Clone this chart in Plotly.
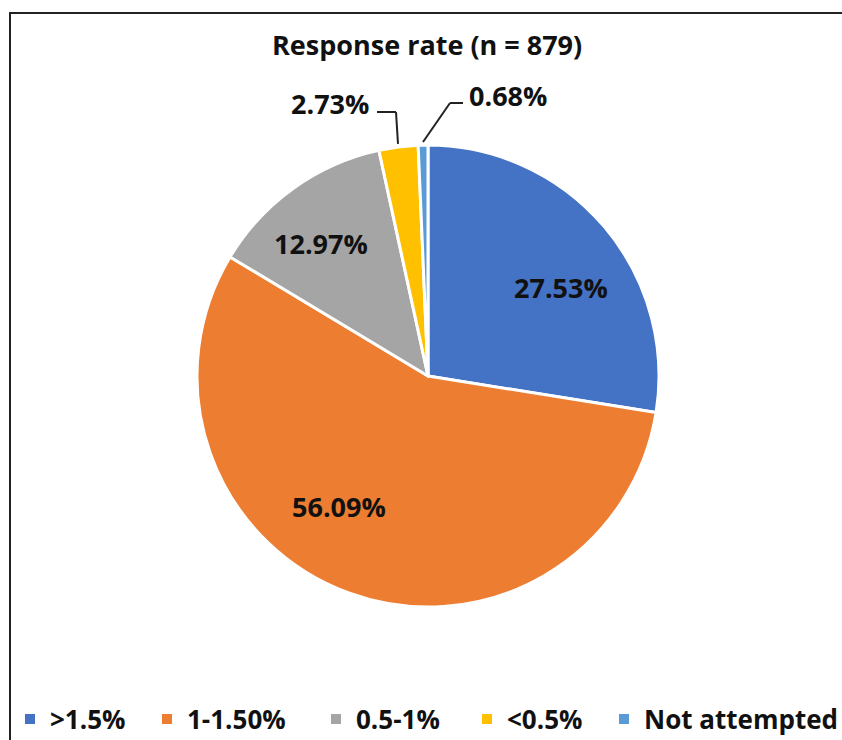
import math
import plotly.graph_objects as go

categories = [">1.5%", "1-1.50%", "0.5-1%", "<0.5%", "Not attempted"]
values = [27.53, 56.09, 12.97, 2.73, 0.68]
label_texts = ["27.53%", "56.09%", "12.97%", "2.73%", "0.68%"]
colors = ["#4472C4", "#ED7D31", "#A5A5A5", "#FFC000", "#5B9BD5"]
title_text = "Response rate (n = 879)"

W, H = 842, 740
CX, CY, R = 428, 376, 231
FONT = "Open Sans"


def px(x):
    return x / W


def py(y):
    return 1 - y / H


fig = go.Figure()
fig.add_trace(go.Pie(
    labels=categories, values=values, sort=False, direction="clockwise", rotation=0,
    marker=dict(colors=colors, line=dict(color="white", width=3)),
    textinfo="none", hoverinfo="label+percent", showlegend=False,
    domain=dict(x=[px(CX - R), px(CX + R)], y=[py(CY + R), py(CY - R)]),
))

# angles of slices (degrees clockwise from 12 o'clock)
total = sum(values)
cum = 0
mids = []
for v in values:
    mids.append((cum + v / 2) / total * 360)
    cum += v


def polar(theta, r):
    t = math.radians(theta)
    return CX + r * math.sin(t), CY - r * math.cos(t)


annotations = []
shapes = []
# inside labels: (angle offset, radius fraction)
inside_style = {0: (6.8, 0.69), 1: (14.1, 0.684), 2: (-3.2, 0.736)}
for i, (dang, rf) in inside_style.items():
    x, y = polar(mids[i] + dang, rf * R)
    annotations.append(dict(x=px(x), y=py(y), xref="paper", yref="paper", text=label_texts[i],
                            showarrow=False, xanchor="center", yanchor="middle",
                            font=dict(family=FONT, size=27, color="#111111", weight=700)))

# outside labels with leader lines
line_style = dict(color="#222222", width=2)
# slice 3 (<0.5%)
ex, ey = polar(mids[3], R + 3)
shapes.append(dict(type="line", xref="paper", yref="paper", x0=px(ex), y0=py(ey), x1=px(ex - 2), y1=py(112), line=line_style))
shapes.append(dict(type="line", xref="paper", yref="paper", x0=px(ex - 2), y0=py(112), x1=px(377), y1=py(112), line=line_style))
annotations.append(dict(x=px(371), y=py(103), xref="paper", yref="paper", text=label_texts[3],
                        showarrow=False, xanchor="right", yanchor="middle",
                        font=dict(family=FONT, size=27, color="#111111", weight=700)))
# slice 4 (Not attempted)
ex, ey = polar(mids[4], R + 3)
shapes.append(dict(type="line", xref="paper", yref="paper", x0=px(ex), y0=py(ey), x1=px(450), y1=py(103), line=line_style))
shapes.append(dict(type="line", xref="paper", yref="paper", x0=px(450), y0=py(103), x1=px(463), y1=py(103), line=line_style))
annotations.append(dict(x=px(467), y=py(95), xref="paper", yref="paper", text=label_texts[4],
                        showarrow=False, xanchor="left", yanchor="middle",
                        font=dict(family=FONT, size=27, color="#111111", weight=700)))

# title
annotations.append(dict(x=px(427), y=py(44), xref="paper", yref="paper", text=title_text,
                        showarrow=False, xanchor="center", yanchor="middle",
                        font=dict(family=FONT, size=27, color="#111111", weight=700)))

# frame
shapes.append(dict(type="rect", xref="paper", yref="paper", x0=px(10), y0=-0.05, x1=1.05, y1=py(13),
                   line=dict(color="#222222", width=2), layer="above"))

# legend via one legend per entry
legend_centers = [30, 167, 336, 487, 624]
layout_legends = {}
for i, name in enumerate(categories):
    key = "legend" if i == 0 else f"legend{i + 1}"
    fig.add_trace(go.Scatter(x=[None], y=[None], mode="markers", name=name,
                             marker=dict(symbol="square", size=10, color=colors[i]),
                             legend=key, showlegend=True, hoverinfo="skip"))
    layout_legends[key] = dict(x=px(legend_centers[i] - 20), y=py(719), xanchor="left", yanchor="middle",
                               orientation="h", bgcolor="rgba(0,0,0,0)",
                               font=dict(family=FONT, size=26, color="#111111", weight=700))

fig.update_layout(
    width=W, height=H, margin=dict(l=0, r=0, t=0, b=0, autoexpand=False),
    paper_bgcolor="white", plot_bgcolor="white",
    xaxis=dict(visible=False), yaxis=dict(visible=False),
    annotations=annotations, shapes=shapes,
    **layout_legends,
)

fig.write_html("out.html")
